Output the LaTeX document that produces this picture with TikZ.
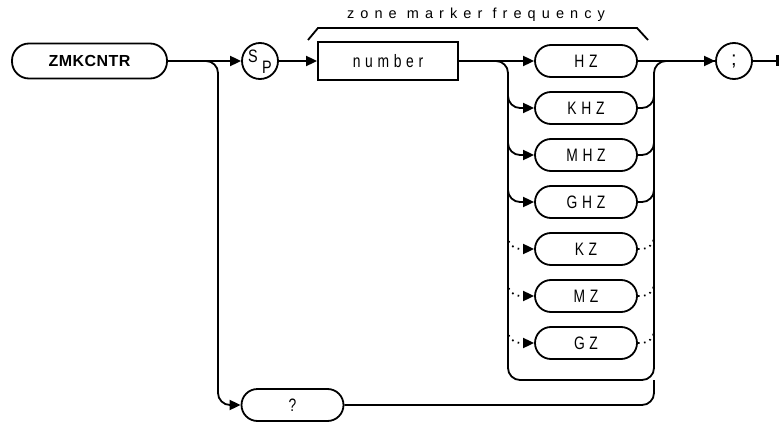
\documentclass[tikz,border=0pt]{standalone}
\usepackage{fontspec}
\setmainfont{Liberation Sans}
\newfontfamily\tagfont[LetterSpace=26,FakeStretch=0.77]{Liberation Sans}
\newfontfamily\narrowfont[FakeStretch=0.8]{Liberation Sans}
\newfontfamily\capfont[LetterSpace=42]{Liberation Sans}
\newfontfamily\keyfont[LetterSpace=3]{Liberation Sans}
\usetikzlibrary{arrows.meta}

\begin{document}
\begin{tikzpicture}[
  x=1pt, y=-1pt, line width=1.8pt,
  keybox/.style={draw, rounded corners=17pt, minimum width=155pt, minimum height=35pt, inner sep=0pt, font=\keyfont\bfseries\fontsize{16}{18}\selectfont},
  unit/.style={draw, rounded corners=16pt, minimum width=102pt, minimum height=32pt, inner sep=0pt, font=\tagfont\fontsize{18}{20}\selectfont},
  numbox/.style={draw, minimum width=140pt, minimum height=38pt, inner sep=0pt, font=\tagfont\fontsize{18}{20}\selectfont},
  circ/.style={draw, circle, minimum size=36pt, inner sep=0pt},
  arr/.style={-{Triangle[length=11pt,width=10pt]}},
  curve/.style={rounded corners=12pt},
  dots/.style={dash pattern=on 1.6pt off 4.5pt},
  endbar/.style={-{Bar[width=11pt,line width=3pt]}}
]
\useasboundingbox (0,0) rectangle (781,422);

\node[keybox] (zmk) at (89.5,61) {ZMKCNTR};
\node[circ] (sp) at (260,61) {};
\node[font=\narrowfont\fontsize{18}{20}\selectfont] (spS) at (253,56) {S};
\node[font=\narrowfont\fontsize{18}{20}\selectfont] (spP) at (267,67) {P};
\node[numbox] (num) at (388,61) {number};
\node[font=\capfont\fontsize{14.5}{16}\selectfont] (freq) at (476,15) {zone marker frequency};
\draw (308,40) -- (318,28) -- (637,28) -- (648,40);

\foreach \lbl/\ypos/\nm in {HZ/61/hz, KHZ/108/khz, MHZ/155/mhz, GHZ/202/ghz, KZ/249/kz, MZ/296/mz, GZ/343/gz}
  \node[unit] (\nm) at (586,\ypos) {\lbl};

\node[circ, font=\fontsize{20}{22}\selectfont] (semi) at (734,61) {;};
\node[unit] (query) at (292.5,405) {?};

\coordinate (fork) at (218,405);
\coordinate (lb) at (508,380);
\coordinate (rb) at (654,380);
\coordinate (top) at (654,61);
\coordinate (stop) at (779,61);

\draw[arr] (zmk) -- (sp);
\draw[arr] (sp) -- (num);
\draw[arr] (num) -- (hz);
\draw[arr] (hz) -- (semi);
\draw[endbar] (semi) -- (stop);

\draw[arr, curve] (zmk.east) -| (fork) -- (query.west);
\draw[curve] (query.east) -| (rb);
\draw[curve] (num.east) -| (lb) -- (rb) -- (top) -- (semi.west);

\foreach \nm/\ypos in {khz/108, mhz/155, ghz/202} {
  \draw[arr, curve] (508,\ypos-22) |- (\nm.west);
  \draw[curve] (\nm.east) -| (654,\ypos-22);
}
\foreach \nm/\ypos in {kz/249, mz/296, gz/343} {
  \draw[arr, curve, dots] (508,\ypos-14) |- (\nm.west);
  \draw[curve, dots] (\nm.east) -| (654,\ypos-14);
}
\end{tikzpicture}
\end{document}
